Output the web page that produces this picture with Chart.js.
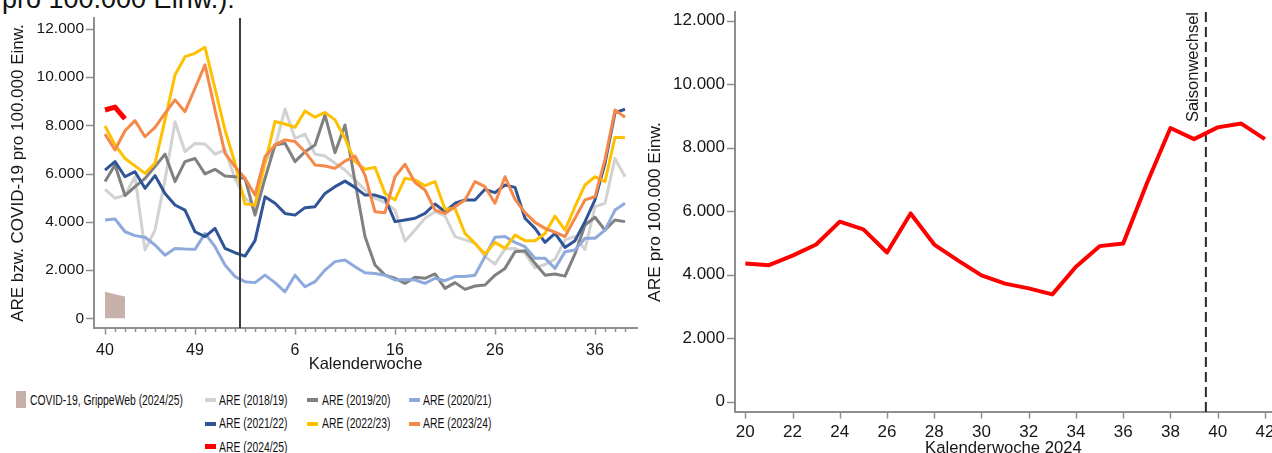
<!DOCTYPE html>
<html lang="de">
<head>
<meta charset="utf-8">
<title>ARE-Raten</title>
<script src="https://cdn.jsdelivr.net/npm/chart.js@4.4.1/dist/chart.umd.min.js"></script>
<style>
  html, body { margin: 0; padding: 0; background: #fff; }
  body { width: 1272px; height: 453px; overflow: hidden; position: relative;
         font-family: "Liberation Sans", Arial, sans-serif; color: #111; }
  #head { position: absolute; left: 2px; top: -14px; font-size: 27px; line-height: 27px; white-space: nowrap; }
  #left { position: absolute; left: 0; top: 0; }
  #right { position: absolute; left: 640px; top: 0; }
  .lg { position: absolute; font-size: 14px; line-height: 14px; white-space: nowrap;
        transform: scaleX(0.74); transform-origin: 0 50%; }
  .mk { position: absolute; width: 11px; height: 4px; }
</style>
</head>
<body>
<div id="head">pro 100.000 Einw.):</div>
<canvas id="left" width="640" height="375"></canvas>
<canvas id="right" width="632" height="470"></canvas>
<div id="legend"></div>
<script>
// Kalenderwochen einer Saison (KW 40 bis KW 39 des Folgejahres, inkl. KW 53)
const seasonWeeks = [40, 41, 42, 43, 44, 45, 46, 47, 48, 49, 50, 51, 52, 53,
  1, 2, 3, 4, 5, 6, 7, 8, 9, 10, 11, 12, 13, 14, 15, 16, 17, 18, 19, 20,
  21, 22, 23, 24, 25, 26, 27, 28, 29, 30, 31, 32, 33, 34, 35, 36, 37, 38, 39];
const seasonTickWeeks = [40, 49, 6, 16, 26, 36];

// ARE-Raten pro 100.000 Einwohner je Saison
const are_2018_19 = [5350, 4980, 5110, 5870, 2830, 3660, 5740, 8150, 6910, 7250,
  7230, 6810, 6980, 5800, 5000, 4600, 6500, 7100, 8680, 7460,
  7640, 6810, 6730, 6430, 6150, 5740, 5320, 4980, 4800, 4490,
  3200, 3660, 4150, 4420, 4250, 3390, 3250, 3110, 2560, 2250,
  2880, 2900, 2700, 2090, 2230, 2450, 3250, 3400, 2850, 4630,
  4770, 6630, 5870];
const are_2019_20 = [5670, 6360, 5090, 5460, 5800, 6290, 6810, 5670, 6500, 6630,
  5990, 6180, 5900, 5870, 5800, 4280, 5800, 7190, 7260, 6500,
  6910, 7190, 8430, 6870, 8020, 5670, 3390, 2210, 1790, 1660,
  1450, 1700, 1660, 1840, 1240, 1480, 1200, 1340, 1380, 1790,
  2070, 2760, 2800, 2280, 1790, 1840, 1750, 2670, 3870, 4190,
  3660, 4080, 4010];
const are_2020_21 = [4080, 4120, 3590, 3430, 3360, 3040, 2620, 2900, 2870, 2860,
  3520, 2970, 2210, 1730, 1520, 1480, 1790, 1480, 1100, 1790,
  1310, 1520, 2000, 2350, 2420, 2140, 1890, 1860, 1790, 1590,
  1610, 1590, 1450, 1660, 1560, 1730, 1730, 1790, 2560, 3360,
  3390, 3150, 2970, 2490, 2490, 2070, 2760, 2830, 3320, 3320,
  3660, 4490, 4770];
const are_2021_22 = [6150, 6500, 5870, 6080, 5390, 5920, 5180, 4700, 4490, 3590,
  3390, 3730, 2900, 2720, 2580, 3220, 5040, 4770, 4350, 4280,
  4590, 4630, 5180, 5460, 5690, 5430, 5110, 5110, 4980, 4010,
  4080, 4150, 4350, 4740, 4420, 4770, 4910, 4910, 5350, 5210,
  5530, 5430, 4150, 3730, 3150, 3520, 2940, 3220, 4010, 4910,
  6430, 8530, 8670];
const are_2022_23 = [7980, 7190, 6630, 6320, 6010, 6430, 8230, 10090, 10850, 10990,
  11240, 9540, 7810, 6430, 4740, 4700, 6430, 8160, 8060, 7920,
  8600, 8340, 8540, 8230, 7460, 6500, 6180, 6260, 5180, 4910,
  5810, 5740, 5500, 5670, 4520, 4560, 3520, 3110, 2670, 3150,
  2900, 3450, 3220, 3220, 3520, 4240, 3660, 4630, 5530, 5870,
  5670, 7510, 7490];
const are_2023_24 = [7640, 6980, 7780, 8200, 7530, 7920, 8500, 9060, 8570, 9540,
  10510, 8640, 6840, 6290, 5810, 5110, 6700, 7190, 7400, 7330,
  6910, 6360, 6320, 6220, 6520, 6730, 5940, 4420, 4380, 5870,
  6390, 5630, 5320, 4490, 4350, 4630, 4910, 5670, 5460, 4770,
  5870, 4930, 4380, 3980, 3730, 3570, 3390, 4150, 4910, 5040,
  6590, 8640, 8340];
// COVID-19 (GrippeWeb) 2024/25, KW 40-42
const covid_2024_25 = [1100, 1000, 900];

// ARE-Rate 2024, KW 20-42
const recentWeeks = [20, 21, 22, 23, 24, 25, 26, 27, 28, 29, 30, 31, 32, 33, 34, 35, 36, 37, 38, 39, 40, 41, 42];
const recentARE = [4350, 4300, 4600, 4950, 5670, 5430, 4700, 5930, 4950, 4450, 3980, 3720,
  3570, 3380, 4250, 4900, 4980, 6870, 8620, 8270, 8640, 8760, 8270];
const recentTickWeeks = [20, 22, 24, 26, 28, 30, 32, 34, 36, 38, 40, 42];

const yTicks = [0, 2000, 4000, 6000, 8000, 10000, 12000];

const FONT = '"Liberation Sans", Arial, sans-serif';
const TXT = '#161616';
const AXIS = '#8e8e8e';
Chart.defaults.font.family = FONT;
Chart.defaults.color = TXT;

const fmt = v => String(v).replace(/\B(?=(\d{3})+(?!\d))/g, '.');

// 2024/25 season values are the weeks >= 40 of the recent series
const are_2024_25 = recentARE.filter((v, k) => recentWeeks[k] >= 40);

const seasons = [
  { label: 'ARE (2018/19)', data: are_2018_19, color: '#d2d2d2', width: 3 },
  { label: 'ARE (2019/20)', data: are_2019_20, color: '#808080', width: 3 },
  { label: 'ARE (2020/21)', data: are_2020_21, color: '#8eaadc', width: 3 },
  { label: 'ARE (2021/22)', data: are_2021_22, color: '#2f5597', width: 3 },
  { label: 'ARE (2022/23)', data: are_2022_23, color: '#ffc000', width: 3 },
  { label: 'ARE (2023/24)', data: are_2023_24, color: '#f5894a', width: 3 },
  { label: 'ARE (2024/25)', data: are_2024_25, color: '#ff0000', width: 5 }
];
const covidColor = '#c8b0ab';

const toXY = arr => arr.map((v, i) => ({ x: i, y: v }));

// keep the plot area fixed: no extra room for overhanging labels
const fixWidth = w => s => { s.width = w; s.paddingTop = 0; s.paddingBottom = 0; };
const fixHeight = h => s => { s.height = h; s.paddingLeft = 0; s.paddingRight = 0; };

// tick marks drawn along both axes
const axisMarks = {
  id: 'axisMarks',
  afterDraw(chart, args, o) {
    const { ctx, chartArea: a, scales: { x, y } } = chart;
    ctx.save();
    ctx.strokeStyle = AXIS;
    ctx.lineWidth = 1.5;
    ctx.beginPath();
    for (const v of o.xMinor) {
      const px = Math.round(x.getPixelForValue(v)) + 0.5;
      ctx.moveTo(px, a.bottom + 1); ctx.lineTo(px, a.bottom + 1 + o.minorLen);
    }
    for (const v of o.xMajor) {
      const px = Math.round(x.getPixelForValue(v)) + 0.5;
      ctx.moveTo(px, a.bottom + 1); ctx.lineTo(px, a.bottom + 1 + o.majorLen);
    }
    for (const v of o.yTicks) {
      const py = Math.round(y.getPixelForValue(v)) + 0.5;
      ctx.moveTo(a.left - 1 - o.yLen, py); ctx.lineTo(a.left - 1, py);
    }
    ctx.stroke();
    ctx.restore();
  }
};

// vertical reference line (season boundary)
function drawRefLine(chart, o) {
  const { ctx, chartArea: a, scales: { x } } = chart;
  const px = x.getPixelForValue(o.value);
  ctx.save();
  ctx.strokeStyle = o.color;
  ctx.lineWidth = o.width;
  ctx.setLineDash(o.dash || []);
  ctx.beginPath();
  ctx.moveTo(px, a.top);
  ctx.lineTo(px, a.bottom);
  ctx.stroke();
  if (o.label) {
    ctx.setLineDash([]);
    ctx.translate(px - o.labelGap, a.top);
    ctx.rotate(-Math.PI / 2);
    ctx.fillStyle = TXT;
    ctx.font = o.labelFont;
    ctx.textAlign = 'right';
    ctx.textBaseline = 'middle';
    ctx.fillText(o.label, 0, 0);
  }
  ctx.restore();
}
const refLine = {
  id: 'refLine',
  beforeDatasetsDraw(chart, args, o) { if (!o.onTop) drawRefLine(chart, o); },
  afterDatasetsDraw(chart, args, o) { if (o.onTop) drawRefLine(chart, o); }
};

// ---------- left panel: seasons by calendar week ----------
const leftDatasets = [{
  label: 'COVID-19, GrippeWeb (2024/25)',
  data: toXY(covid_2024_25),
  borderWidth: 0,
  backgroundColor: covidColor,
  fill: 'origin',
  order: 20
}].concat(seasons.map((s, k) => ({
  label: s.label,
  data: toXY(s.data),
  borderColor: s.color,
  borderWidth: s.width,
  fill: false,
  order: 10 - k
})));

const seasonIdx = seasonTickWeeks.map(w => seasonWeeks.indexOf(w));
new Chart(document.getElementById('left'), {
  type: 'line',
  data: { datasets: leftDatasets },
  options: {
    responsive: false, animation: false, devicePixelRatio: 1,
    layout: { padding: { left: 0, top: 18, right: 3, bottom: 0 } },
    elements: { point: { radius: 0 }, line: { tension: 0, borderJoinStyle: 'round' } },
    plugins: {
      legend: { display: false }, tooltip: { enabled: false },
      axisMarks: { xMinor: seasonWeeks.map((w, i) => i), xMajor: seasonIdx, yTicks, minorLen: 3, majorLen: 5.5, yLen: 7 },
      refLine: { value: 13.5, color: '#3c3c3c', width: 2, onTop: true }
    },
    scales: {
      x: {
        type: 'linear', min: -1.1, max: 53.2,
        afterBuildTicks: s => { s.ticks = seasonIdx.map(v => ({ value: v })); },
        afterFit: fixHeight(47),
        grid: { display: false, drawTicks: false },
        border: { display: true, color: AXIS, width: 2 },
        ticks: { callback: v => String(seasonWeeks[v]), padding: 13, maxRotation: 0, autoSkip: false,
                 font: { size: 16 }, color: TXT },
        title: { display: true, text: 'Kalenderwoche', font: { size: 16.5 }, color: TXT, padding: { top: 0, bottom: 1 } }
      },
      y: {
        type: 'linear', min: -402, max: 12455,
        afterBuildTicks: s => { s.ticks = yTicks.map(v => ({ value: v })); },
        afterFit: fixWidth(94),
        grid: { display: false, drawTicks: false },
        border: { display: true, color: AXIS, width: 2 },
        ticks: { callback: v => fmt(v), padding: 10, font: { size: 15.5 }, color: TXT },
        title: { display: true, text: 'ARE bzw. COVID-19 pro 100.000 Einw.', font: { size: 17 }, color: TXT,
                 padding: { top: 8.5, bottom: 0 } }
      }
    }
  },
  plugins: [axisMarks, refLine]
});

// ---------- right panel: ARE 2024 ----------
new Chart(document.getElementById('right'), {
  type: 'line',
  data: {
    datasets: [{
      label: 'ARE 2024',
      data: recentWeeks.map((w, i) => ({ x: w, y: recentARE[i] })),
      borderColor: '#ff0000',
      borderWidth: 4,
      fill: false
    }]
  },
  options: {
    responsive: false, animation: false, devicePixelRatio: 1,
    layout: { padding: { left: 0, top: 12, right: 0, bottom: 0 } },
    elements: { point: { radius: 0 }, line: { tension: 0, borderJoinStyle: 'round' } },
    plugins: {
      legend: { display: false }, tooltip: { enabled: false },
      axisMarks: { xMinor: [], xMajor: recentTickWeeks, yTicks, minorLen: 3, majorLen: 5.5, yLen: 7 },
      refLine: { value: 39.5, color: '#2a2a2a', width: 2, dash: [10, 5], onTop: false,
                 label: 'Saisonwechsel', labelGap: 12.5, labelFont: '16.5px ' + FONT }
    },
    scales: {
      x: {
        type: 'linear', min: 19.564, max: 42.3,
        afterBuildTicks: s => { s.ticks = recentTickWeeks.map(v => ({ value: v })); },
        afterFit: fixHeight(58),
        grid: { display: false, drawTicks: false },
        border: { display: true, color: AXIS, width: 2 },
        ticks: { callback: v => String(v), padding: 10, maxRotation: 0, autoSkip: false, font: { size: 17 }, color: TXT },
        title: { display: true, text: 'Kalenderwoche 2024', font: { size: 16.7 }, color: TXT, padding: { top: 0, bottom: 12 } }
      },
      y: {
        type: 'linear', min: -324, max: 12274,
        afterBuildTicks: s => { s.ticks = yTicks.map(v => ({ value: v })); },
        afterFit: fixWidth(95),
        grid: { display: false, drawTicks: false },
        border: { display: true, color: AXIS, width: 2 },
        ticks: { callback: v => fmt(v), padding: 10, font: { size: 17 }, color: TXT },
        title: { display: true, text: 'ARE pro 100.000 Einw.', font: { size: 17.4 }, color: TXT,
                 padding: { top: 5, bottom: 0 } }
      }
    }
  },
  plugins: [axisMarks, refLine]
});

// ---------- legend below the left panel ----------
const legend = document.getElementById('legend');
function addEl(cls, style, text) {
  const d = document.createElement('div');
  d.className = cls;
  Object.assign(d.style, style);
  if (text) d.textContent = text;
  legend.appendChild(d);
}
addEl('mk', { left: '16px', top: '391px', width: '10px', height: '17px', background: covidColor });
addEl('lg', { left: '30px', top: '393px' }, leftDatasets[0].label);
const cols = [{ mk: 205, tx: 219 }, { mk: 307, tx: 322 }, { mk: 409, tx: 423 }];
const rows = [{ mk: 398, tx: 393 }, { mk: 422, tx: 416 }, { mk: 444, tx: 440 }];
seasons.forEach((s, k) => {
  const c = cols[k % 3], r = rows[Math.floor(k / 3)];
  addEl('mk', { left: c.mk + 'px', top: r.mk + 'px', height: (s.width > 3 ? 5 : 4) + 'px', background: s.color });
  addEl('lg', { left: c.tx + 'px', top: r.tx + 'px' }, s.label);
});
</script>
</body>
</html>
